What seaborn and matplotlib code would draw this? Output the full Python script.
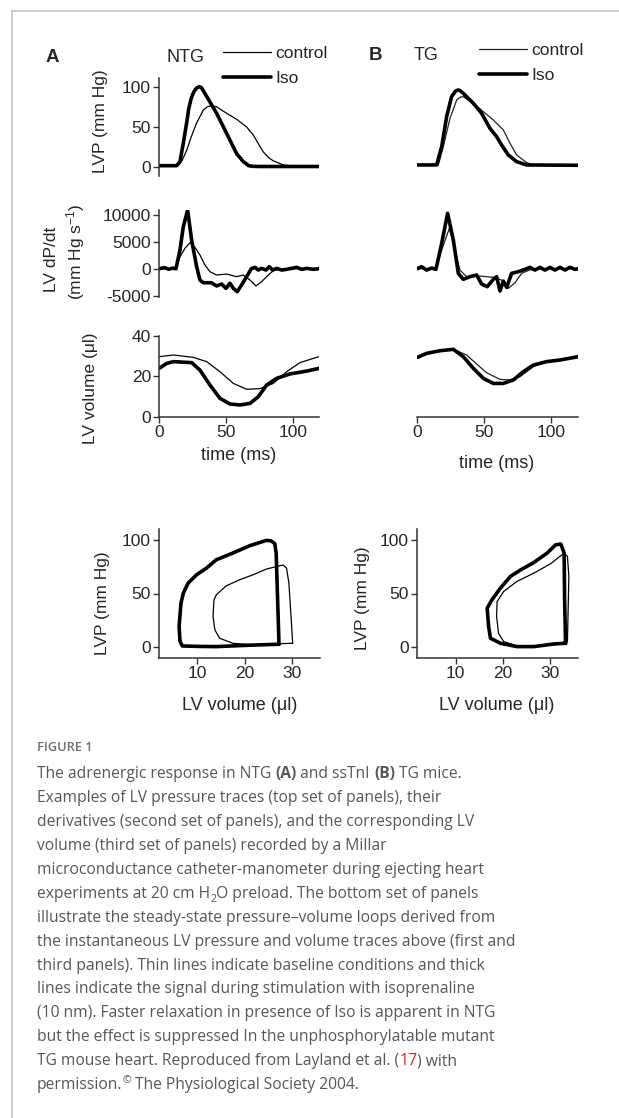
import numpy as np
import pandas as pd
import matplotlib
matplotlib.use('Agg')
import matplotlib.pyplot as plt
import seaborn as sns
from matplotlib.lines import Line2D
from matplotlib.font_manager import FontProperties

sns.set_style('ticks')
plt.rcParams['font.family'] = ['Liberation Sans', 'DejaVu Sans']
plt.rcParams['axes.unicode_minus'] = False
plt.rcParams['mathtext.default'] = 'regular'

# ---- data ----
# NTG (A) LV pressure (mm Hg) vs time (ms)
t_lvp_a_ctrl = [0, 14, 17, 20.5, 24, 28, 33, 36, 38, 40.5, 43, 50.5, 58, 65.5, 70.5, 74, 78, 82, 85.5, 93, 100, 120]
lvp_a_ctrl = [2, 2, 8, 21, 38, 55, 71, 75, 76, 76, 75, 67, 59.5, 50, 40, 30, 19, 12, 8, 3, 1.5, 1.5]
t_lvp_a_iso = [0, 13, 15.5, 18, 20.5, 22, 24, 26, 28, 30, 31.5, 33, 35.5, 43, 50.5, 58, 63, 65.5, 67, 70, 75, 120]
lvp_a_iso = [2, 2, 7, 30, 55, 72, 86, 94, 98.5, 100, 99, 95, 88, 67, 42, 17, 7, 4, 2, 1.2, 1, 1]

# NTG (A) dP/dt (mm Hg/s)
t_dp_a_ctrl = [0, 12.5, 15.5, 19.25, 23, 26.75, 30.5, 34.25, 38, 43, 50.5, 58, 63, 68, 72.5, 76.75, 81.75, 85.5, 90.5, 100, 110, 120]
dp_a_ctrl = [0, 0, 2220, 3770, 4800, 3950, 2530, 680, -560, -1170, -990, -1480, -1170, -2100, -3200, -2400, -1170, -370, -100, 0, 100, 0]
t_dp_a_iso = [0, 4, 7, 10, 12.5, 15.5, 18, 21.25, 24.25, 28, 30.5, 33, 35.5, 39, 43, 46.75, 50, 53, 55.5, 58.5,
              61.75, 65.5, 69, 71.75, 74.25, 76.75, 80, 82.5, 85, 88, 91.75, 95.5, 99.25, 103, 106.75, 110.5, 115.5, 120]
dp_a_iso = [0, 200, -100, 100, 0, 3460, 7780, 10860, 5300, 370, -2100, -2600, -2600, -2600, -3200, -2840, -3640, -2700, -3640, -4260,
            -3000, -1480, 0, 250, -250, 60, -250, 370, -250, 60, -250, -120, 60, 250, -120, 60, -120, 0]

# NTG (A) LV volume (ul)
t_vol_a_ctrl = [0, 10.5, 25.5, 35.5, 45.5, 55.5, 65.5, 75.5, 85.5, 95.5, 105.5, 115.5, 120]
vol_a_ctrl = [29.75, 30.6, 29.4, 27.3, 22.3, 16.5, 13.6, 13.9, 16.5, 22.3, 26.8, 28.9, 29.75]
t_vol_a_iso = [0, 5.5, 10.5, 24.25, 30.5, 38, 45.5, 53, 60.5, 68, 74.25, 80.5, 88, 98, 110.5, 120]
vol_a_iso = [24, 26.4, 27.3, 26.8, 23.1, 15.7, 9.1, 6.3, 5.8, 6.6, 9.9, 15.7, 19, 21.2, 22.6, 24]

# TG (B) LV pressure
t_lvp_b_ctrl = [0, 15.7, 19.4, 24.4, 29.4, 32, 34.3, 41.8, 49.3, 56.7, 64.2, 69.2, 74.1, 81.6, 86.6, 120]
lvp_b_ctrl = [2.9, 2.9, 25.6, 60.8, 83.5, 87, 87.7, 79.4, 69, 58.7, 46.3, 29.8, 15.3, 5.8, 2.9, 2.5]
t_lvp_b_iso = [0, 14.4, 18.2, 21.9, 25.6, 28.5, 30.6, 32.5, 35.6, 41.8, 48, 54.2, 59.2, 62.9, 67.9, 74.1, 81.6, 120]
lvp_b_iso = [2.9, 2.9, 25.6, 62.9, 87.7, 94.5, 96, 94.5, 89.7, 79.4, 67, 48.4, 38, 27.7, 15.3, 7, 2.9, 2.5]

# TG (B) dP/dt
t_dp_b_ctrl = [0, 13.9, 18.2, 23.9, 28.1, 31.8, 36.8, 46.8, 56.7, 62.9, 67.9, 72.9, 77.9, 84.1, 95, 110, 120]
dp_b_ctrl = [0, 0, 3460, 7470, 3460, -250, -1480, -1360, -1600, -2100, -3640, -2600, -860, -200, 0, 0, 0]
t_dp_b_iso = [0, 3.2, 7, 10.7, 13.9, 18.2, 22.6, 26.9, 30.6, 34.3, 39.3, 44.3, 48, 52.2, 56.7, 59.2, 61.7, 64.2, 66.7,
              70.4, 75.4, 80.3, 84.1, 87.8, 91.5, 95.3, 99, 102.7, 106.5, 110.2, 113.9, 117.7, 120]
dp_b_iso = [0, 370, -250, 120, -120, 4690, 10250, 5300, -860, -1975, -1480, -1170, -2840, -3330, -1975, -1480, -4135, -2300, -3450,
            -860, -560, -120, 250, -250, 250, -250, 250, -250, 250, -250, 250, -120, 0]

# TG (B) LV volume
t_vol_b_ctrl = [0, 12, 26.9, 36.8, 44.3, 51.7, 61.7, 69.2, 76.6, 86.6, 96.5, 120]
vol_b_ctrl = [30, 32.2, 33.4, 30.6, 26.1, 21.8, 18.5, 18.2, 19.8, 24.8, 27.3, 29.75]
t_vol_b_iso = [0, 7, 17, 26.9, 34.3, 41.8, 49.3, 56.7, 64.2, 71.6, 79.1, 86.6, 96.5, 106.5, 120]
vol_b_iso = [29.4, 31.4, 32.7, 33.4, 29.75, 24, 19, 16.5, 16.5, 18.2, 22.3, 25.6, 27.3, 28.1, 29.75]

# pressure-volume loops
loop_a_ctrl_v = [30.2, 29.9, 29.4, 28.9, 28.2, 27.6, 24.6, 21.8, 18.9, 16.1, 14, 13.5, 13.3, 13.7, 14.7, 17.5, 21.8, 26, 30.2]
loop_a_ctrl_p = [3.7, 25.5, 59.6, 73.6, 76.5, 76, 72.7, 67.4, 62.7, 57.1, 48.8, 44.1, 28.6, 16.1, 8.4, 3.7, 2.2, 3.1, 3.7]
loop_a_iso_v = [27.3, 27.0, 26.7, 26.4, 25.6, 24.6, 21.06, 17.5, 14, 11.9, 9.8, 8, 7, 6.5, 6.1, 6.3, 6.8, 10, 14, 21, 27.3]
loop_a_iso_p = [2.8, 45, 87.6, 96.5, 99, 99.4, 94.4, 87.6, 81.4, 73.6, 67.4, 59.6, 50.3, 41, 19.3, 5.3, 1.2, 0.8, 0.6, 1.9, 2.8]
loop_b_ctrl_v = [33.7, 34.0, 33.7, 33, 30.1, 26.6, 23, 20.2, 18.8, 18.7, 19.1, 20.2, 23, 26.6, 30.9, 33.7]
loop_b_ctrl_p = [5.3, 65.8, 84.5, 87.6, 77.6, 69, 61.2, 51.9, 42.5, 28.6, 13, 5.3, 1.2, 0.6, 2.2, 5.3]
loop_b_iso_v = [33.3, 33.1, 33, 32.3, 31.2, 29.4, 26.6, 23.8, 21.6, 19.5, 17.7, 16.7, 17, 17.4, 19.5, 23, 26.6, 30.9, 33.3]
loop_b_iso_p = [3.7, 45, 87.6, 96, 95.3, 87.6, 78.9, 72, 65.8, 55, 44.1, 36.3, 19.3, 8.4, 3.7, 0.6, 0.6, 3.1, 3.7]

W, H = 619, 1118
fig = plt.figure(figsize=(W / 100, H / 100), dpi=100)


def rect(l, t, r, b):
    return [l / W, 1 - b / H, (r - l) / W, (b - t) / H]


def draw(ax, xc, yc, xi, yi, ctrl_color='black'):
    df = pd.concat([pd.DataFrame({'x': xc, 'y': yc, 'cond': 'control'}),
                    pd.DataFrame({'x': xi, 'y': yi, 'cond': 'Iso'})], ignore_index=True)
    sns.lineplot(data=df, x='x', y='y', hue='cond', size='cond',
                 palette={'control': ctrl_color, 'Iso': 'black'},
                 sizes={'control': 0.9, 'Iso': 2.6},
                 sort=False, estimator=None, legend=False, ax=ax)
    for ln in ax.lines:
        ln.set_solid_joinstyle('round')


def style(ax, left, bottom):
    for s in ['top', 'right']:
        ax.spines[s].set_visible(False)
    ax.spines['left'].set_visible(left)
    ax.spines['bottom'].set_visible(bottom)
    for s in ['left', 'bottom']:
        ax.spines[s].set_linewidth(1.1)
        ax.spines[s].set_color('#333333')
    if not left:
        ax.set_yticks([])
    if not bottom:
        ax.set_xticks([])
    ax.tick_params(length=4.5, width=1, pad=1.5, labelsize=12.5, color='#333333')
    ax.set_xlabel('')
    ax.set_ylabel('')
    ax.patch.set_alpha(0)


xa = (159.3, 319.3)
xb = (417.3, 578.1)
rows = [(78, 176), (210, 296.7), (336, 416.7)]

panels = [
    (t_lvp_a_ctrl, lvp_a_ctrl, t_lvp_a_iso, lvp_a_iso, (-10.8, 110.8), [0, 50, 100]),
    (t_dp_a_ctrl, dp_a_ctrl, t_dp_a_iso, dp_a_iso, (-5185, 10870), [-5000, 0, 5000, 10000]),
    (t_vol_a_ctrl, vol_a_ctrl, t_vol_a_iso, vol_a_iso, (0, 40), [0, 20, 40]),
]
panels_b = [
    (t_lvp_b_ctrl, lvp_b_ctrl, t_lvp_b_iso, lvp_b_iso),
    (t_dp_b_ctrl, dp_b_ctrl, t_dp_b_iso, dp_b_iso),
    (t_vol_b_ctrl, vol_b_ctrl, t_vol_b_iso, vol_b_iso),
]

axes_a, axes_b = [], []
for i, (top, bot) in enumerate(rows):
    xc, yc, xi, yi, ylim, yt = panels[i]
    ax = fig.add_axes(rect(xa[0], top, xa[1], bot))
    draw(ax, xc, yc, xi, yi)
    ax.set_xlim(0, 120)
    ax.set_ylim(*ylim)
    style(ax, True, i == 2)
    ax.set_yticks(yt)
    if i == 2:
        ax.set_xticks([0, 50, 100])
    axes_a.append(ax)

    xc, yc, xi, yi = panels_b[i]
    bx = fig.add_axes(rect(xb[0], top, xb[1], bot))
    draw(bx, xc, yc, xi, yi, ctrl_color='#222222')
    bx.set_xlim(0, 120)
    bx.set_ylim(*ylim)
    style(bx, False, i == 2)
    if i == 2:
        bx.set_xticks([0, 50, 100])
    axes_b.append(bx)

# loops
for (l, r), v_c, p_c, v_i, p_i in [((159.3, 320), loop_a_ctrl_v, loop_a_ctrl_p, loop_a_iso_v, loop_a_iso_p),
                                   ((417.3, 578.3), loop_b_ctrl_v, loop_b_ctrl_p, loop_b_iso_v, loop_b_iso_p)]:
    ax = fig.add_axes(rect(l, 529, r, 658))
    draw(ax, v_c, p_c, v_i, p_i)
    ax.set_xlim(1.9, 36)
    ax.set_ylim(-10, 110)
    style(ax, True, True)
    ax.set_xticks([10, 20, 30])
    ax.set_yticks([0, 50, 100])

# legends
for ax, x0, y0 in [(axes_a[0], 223, 46), (axes_b[0], 479, 43)]:
    ax.legend(handles=ax.lines[:2], labels=['control', 'Iso'], loc='upper left',
              bbox_to_anchor=(x0 / W, 1 - y0 / H), bbox_transform=fig.transFigure,
              frameon=False, fontsize=12.5, handlelength=2.75, handletextpad=0.25,
              labelspacing=0.55, borderpad=0, borderaxespad=0)


def ftext(x, y, s, **kw):
    return fig.text(x / W, 1 - y / H, s, **kw)


lab = dict(fontsize=12.5, ha='center', va='center')
ftext(52, 57, 'A', fontsize=13.5, fontweight='bold', ha='center', va='center')
ftext(185, 57, 'NTG', fontsize=13, ha='center', va='center')
ftext(376, 55, 'B', fontsize=13.5, fontweight='bold', ha='center', va='center')
ftext(426, 55, 'TG', fontsize=13, ha='center', va='center')
ftext(101, 121, 'LVP (mm Hg)', rotation=90, **lab)
ftext(51, 259, 'LV dP/dt', rotation=90, **lab)
ftext(76, 252, '(mm Hg s$^{-1}$)', rotation=90, **lab)
ftext(90, 388, 'LV volume (\u03bcl)', rotation=90, **lab)
ftext(239, 455, 'time (ms)', fontsize=13, ha='center', va='center')
ftext(497, 463, 'time (ms)', fontsize=13, ha='center', va='center')
ftext(102, 603, 'LVP (mm Hg)', rotation=90, **lab)
ftext(363, 598, 'LVP (mm Hg)', rotation=90, **lab)
ftext(240, 705, 'LV volume (\u03bcl)', fontsize=13, ha='center', va='center')
ftext(497, 705, 'LV volume (\u03bcl)', fontsize=13, ha='center', va='center')

# page border
fig.add_artist(Line2D([11.5 / W, 11.5 / W], [0, 1 - 11 / H], transform=fig.transFigure, color='#c8c8c8', lw=1.3))
fig.add_artist(Line2D([11.5 / W, 1], [1 - 11 / H, 1 - 11 / H], transform=fig.transFigure, color='#c8c8c8', lw=1.3))

# caption
renderer = fig.canvas.get_renderer()
cap_font = 'Open Sans'
grey = '#555759'


def adv(s, fp):
    w1 = renderer.get_text_width_height_descent('x' + s + 'x', fp, ismath=False)[0]
    w2 = renderer.get_text_width_height_descent('xx', fp, ismath=False)[0]
    return w1 - w2


probe = FontProperties(family=cap_font, size=10)
base = 10 * 446 / adv('microconductance catheter-manometer during ejecting heart', probe)

caption = [
    [('The adrenergic response in NTG ', {}), ('(A)', {'bold': True}), (' and ssTnI ', {}), ('(B)', {'bold': True}), (' TG mice.', {})],
    [('Examples of LV pressure traces (top set of panels), their', {})],
    [('derivatives (second set of panels), and the corresponding LV', {})],
    [('volume (third set of panels) recorded by a Millar', {})],
    [('microconductance catheter-manometer during ejecting heart', {})],
    [('experiments at 20 cm H', {}), ('2', {'sub': True}), ('O preload. The bottom set of panels', {})],
    [('illustrate the steady-state pressure\u2013volume loops derived from', {})],
    [('the instantaneous LV pressure and volume traces above (first and', {})],
    [('third panels). Thin lines indicate baseline conditions and thick', {})],
    [('lines indicate the signal during stimulation with isoprenaline', {})],
    [('(10 nm). Faster relaxation in presence of Iso is apparent in NTG', {})],
    [('but the effect is suppressed In the unphosphorylatable mutant', {})],
    [('TG mouse heart. Reproduced from Layland et al. (', {}), ('17', {'red': True}), (') with', {})],
    [('permission.', {}), ('\u00a9', {'sup': True}), (' The Physiological Society 2004.', {})],
]

ftext(37, 751, 'FIGURE 1', fontsize=base * 0.82, family=cap_font, fontweight='semibold',
      color='#6d6e71', va='baseline', ha='left')

for i, pieces in enumerate(caption):
    x = 37.0
    yb = 778.3 + 23.9 * i
    for s, o in pieces:
        size = base * (0.68 if (o.get('sub') or o.get('sup')) else 1)
        weight = 'bold' if o.get('bold') else 'normal'
        dy = 4 if o.get('sub') else (-6 if o.get('sup') else 0)
        col = '#d7261e' if o.get('red') else grey
        fp = FontProperties(family=cap_font, size=size, weight=weight)
        ftext(x, yb + dy, s, fontproperties=fp, color=col, va='baseline', ha='left')
        x += adv(s, fp)

fig.savefig('out.png', dpi=100)
